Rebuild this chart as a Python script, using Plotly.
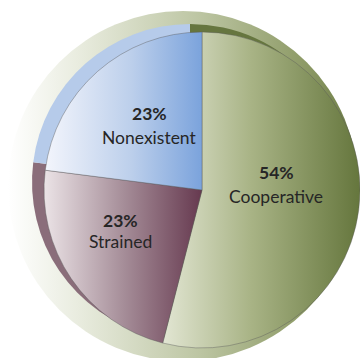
import plotly.graph_objects as go

# Relationship quality shares (percent)
categories = ["Cooperative", "Strained", "Nonexistent"]
shares = [54, 23, 23]

W, H = 360, 358

# face colours (solid fallback) and side colours of the extruded pie
face_colors = ["#a9b386", "#a58d98", "#b9cdea"]
side_colors = ["#66763f", "#8a6d7a", "#b6cbea"]


def px_domain(cx, cy, r):
    return dict(x=[(cx - r) / W, min((cx + r) / W, 1.0)],
                y=[max(1 - (cy + r) / H, 0.0), 1 - (cy - r) / H])


fig = go.Figure()

# side of the pie, offset up and to the left
fig.add_trace(go.Pie(
    labels=categories, values=shares, sort=False, direction="clockwise",
    rotation=0, textinfo="none", hoverinfo="skip", showlegend=False,
    marker=dict(colors=side_colors, line=dict(width=0)),
    domain=px_domain(190, 182, 158),
))

# top face
fig.add_trace(go.Pie(
    labels=categories, values=shares, sort=False, direction="clockwise",
    rotation=0, textinfo="none", hoverinfo="skip", showlegend=False,
    marker=dict(colors=face_colors, line=dict(width=0.7, color="rgba(90,90,90,0.6)")),
    domain=px_domain(202, 190, 158),
))

# pale rim disc behind the pie
fig.add_shape(type="circle", xref="paper", yref="paper", layer="below",
              x0=8 / W, x1=358 / W, y0=1 - 361 / H, y1=1 - 11 / H,
              fillcolor="#c5cdaf", line=dict(width=0))

# slice labels: bold share above the category name
label_pos = {
    "Cooperative": (276, 172, 196),
    "Nonexistent": (149, 114, 137),
    "Strained": (120, 220, 241),
}
font_family = "Lato, 'Open Sans', sans-serif"
for name, val in zip(categories, shares):
    x, yv, yn = label_pos[name]
    fig.add_annotation(x=x / W, y=1 - yv / H, xref="paper", yref="paper",
                       text=f"<b>{val}%</b>", showarrow=False,
                       xanchor="center", yanchor="middle",
                       font=dict(family=font_family, size=17.5, color="#262626"))
    fig.add_annotation(x=x / W, y=1 - yn / H, xref="paper", yref="paper",
                       text=name, showarrow=False,
                       xanchor="center", yanchor="middle",
                       font=dict(family=font_family, size=17.5, color="#262626"))

fig.update_layout(
    width=W, height=H, margin=dict(l=0, r=0, t=0, b=0),
    paper_bgcolor="white", plot_bgcolor="white",
)

# horizontal light-to-dark shading for the faces and the rim
shade_js = """
var gd = document.getElementById('{plot_id}');
var ns = 'http://www.w3.org/2000/svg';
var svg = gd.querySelector('svg.main-svg');
var defs = svg.querySelector('defs');
function grad(id, stops) {
  var g = document.createElementNS(ns, 'linearGradient');
  g.setAttribute('id', id);
  g.setAttribute('x1', '0'); g.setAttribute('y1', '0');
  g.setAttribute('x2', '1'); g.setAttribute('y2', '0');
  stops.forEach(function (s) {
    var st = document.createElementNS(ns, 'stop');
    st.setAttribute('offset', s[0]);
    st.setAttribute('stop-color', s[1]);
    g.appendChild(st);
  });
  defs.appendChild(g);
}
grad('shadeCoop', [['0', '#e2e6d3'], ['0.45', '#a8b385'], ['1', '#65763d']]);
grad('shadeStrained', [['0', '#ebe3e6'], ['0.5', '#a68e99'], ['1', '#66394f']]);
grad('shadeNone', [['0', '#f3f5fc'], ['0.55', '#bccfeb'], ['1', '#7ba3dc']]);
grad('shadeRim', [['0', '#ffffff'], ['0.2', '#e9ecdf'], ['0.55', '#bcc5a2'], ['0.85', '#8d9a66'], ['1', '#6b7b43']]);
var ids = ['shadeCoop', 'shadeStrained', 'shadeNone'];
var traces = gd.querySelectorAll('.pielayer .trace');
if (traces.length > 1) {
  traces[1].querySelectorAll('.slice path.surface').forEach(function (p, i) {
    p.style.fill = 'url(#' + ids[i] + ')';
  });
}
gd.querySelectorAll('.layer-below .shapelayer path').forEach(function (p) {
  p.style.fill = 'url(#shadeRim)';
});
"""

fig.write_html("out.html", post_script=shade_js)
